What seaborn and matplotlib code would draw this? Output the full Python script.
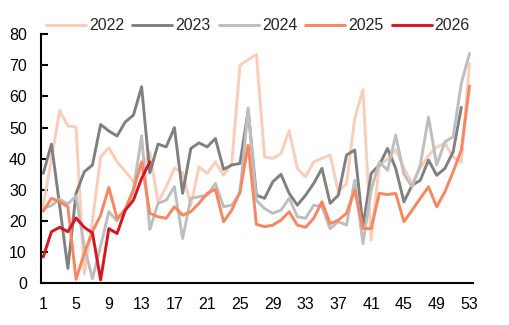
import numpy as np
import pandas as pd
import matplotlib
matplotlib.use("Agg")
import matplotlib.pyplot as plt
import seaborn as sns

years = ["2022", "2023", "2024", "2025", "2026"]
v2022 = [25, 40, 55.5, 50.5, 50.2, 3, 20, 40.6, 43.5, 39, 36, 32.6, 37, 42, 26, 31, 37, 35.5, 25, 37.4,
         35.3, 39, 34.7, 38.5, 70, 71.8, 73.5, 40.6, 40.1, 41.7, 49, 36.9, 34.2, 39, 40.1, 41.2, 29.4, 32.1,
         52.9, 62.2, 13.9, 38, 40, 43, 37, 32, 37, 41, 43.8, 44.9, 40.6, 39, 70.6]
v2023 = [35.3, 44.7, 25, 4.8, 28.9, 35.8, 38, 51, 48.9, 47.3, 51.8, 54, 63.1, 35.5, 44.7, 43.8, 50, 28.9,
         43.3, 45.1, 43.8, 46.5, 36.6, 38, 38.5, 55.5, 28.3, 27.3, 32.6, 35, 28.9, 25.1, 28.3, 32.1, 36.9,
         25.7, 28.3, 41.2, 42.8, 18.2, 35.3, 38, 43.3, 36.9, 26.2, 31.5, 33.1, 39.6, 34.7, 36.9, 42.2, 56.5]
v2024 = [24, 25, 27, 25.5, 28, 12, 1.5, 12, 23, 20, 24, 30, 47.3, 17.3, 25.7, 26.7, 31, 14.4, 27.3, 27.8,
         28.3, 32.1, 24.6, 25.1, 29, 56.3, 26.7, 24, 22.5, 23.5, 27.3, 21.4, 20.9, 25.1, 24.6, 17.6, 19.8,
         18.7, 33.1, 12.8, 29.9, 39, 36.3, 47.6, 35, 31, 38, 53.4, 38, 45.4, 47, 64.2, 73.8]
v2025 = [23.2, 27.3, 26.2, 24.6, 1.3, 9.6, 16.6, 21.9, 30.8, 20.9, 23.5, 30, 39, 22.5, 21.4, 20.9, 24.6,
         21.9, 23, 25.7, 28.9, 30.2, 19.8, 23.5, 29.4, 44.4, 19, 18.2, 18.7, 20.3, 23, 18.7, 18, 20.9, 26.2,
         19.2, 20.3, 22.5, 29.9, 17.6, 17.6, 28.9, 28.5, 28.9, 19.8, 23.5, 27.3, 31, 24.6, 29.4, 35.8, 42.8, 63.3]
v2026 = [8.5, 16.6, 18, 16.6, 21, 18, 16.2, 1.1, 17.6, 16, 23.5, 26.7, 33.7, 39]
colors = ["#FBCDB8", "#808080", "#BEBEBE", "#F8865F", "#DC1420"]
xticklabels = list(range(1, 54, 4))

series = [v2022, v2023, v2024, v2025, v2026]
rows = []
for y, vals in zip(years, series):
    for i, v in enumerate(vals):
        rows.append({"week": i + 1, "value": v, "year": y})
df = pd.DataFrame(rows)

sns.set_style("white")
plt.rcParams["font.family"] = ["Liberation Sans", "DejaVu Sans"]

fig = plt.figure(figsize=(5.1, 3.25), dpi=100)
ax = fig.add_axes([0.080, 0.128, 0.847, 0.767])
sns.lineplot(data=df, x="week", y="value", hue="year", hue_order=years,
             palette=dict(zip(years, colors)), linewidth=2.1, sort=False,
             estimator=None, ax=ax)

ax.set_xlim(0.7, 53.4)
ax.set_ylim(0, 80)
ax.set_yticks(np.arange(0, 81, 10))
ax.set_xticks(xticklabels)
ax.set_xticklabels([str(t) for t in xticklabels])
ax.set_xticks(np.arange(4.5, 53, 4), minor=True)
ax.tick_params(axis="x", which="major", length=0, pad=9.5, labelsize=11.5, colors="black")
ax.tick_params(axis="x", which="minor", direction="in", length=5, width=1.5, color="black")
ax.tick_params(axis="y", direction="in", length=5, width=1.5, pad=10, labelsize=11.5,
               colors="black", left=True)
ax.set_xlabel("")
ax.set_ylabel("")
for s in ["top", "right"]:
    ax.spines[s].set_visible(False)
for s in ["left", "bottom"]:
    ax.spines[s].set_color("black")
    ax.spines[s].set_linewidth(1.5)

handles, labels = ax.get_legend_handles_labels()
ax.get_legend().remove()
fig.legend(handles, labels, loc="center", bbox_to_anchor=(0.506, 0.92), ncol=5,
           frameon=False, fontsize=11.5, handlelength=2.5, handletextpad=0.2,
           columnspacing=0.5, borderaxespad=0)

fig.savefig("out.png", dpi=100)
